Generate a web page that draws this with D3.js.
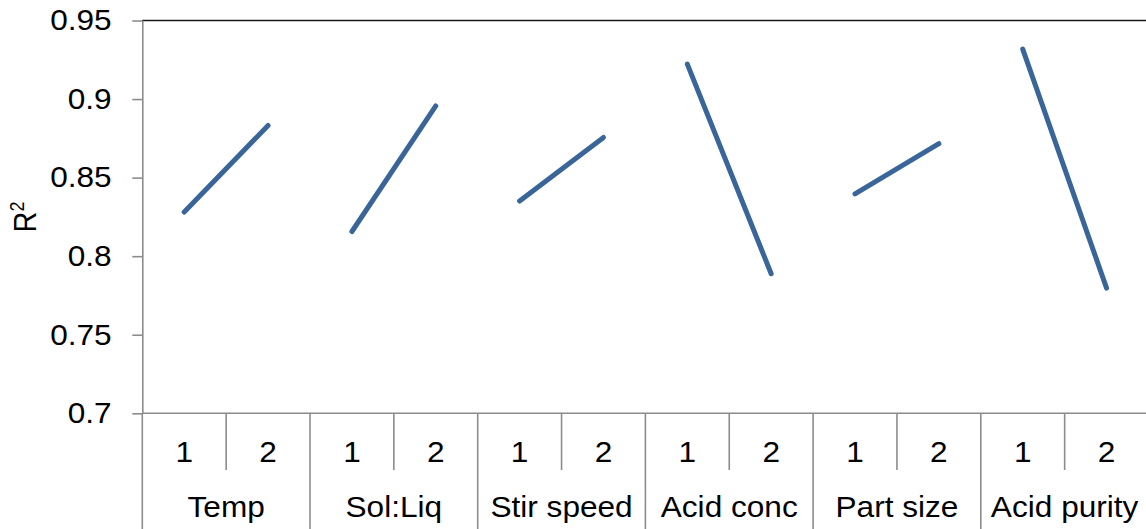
<!DOCTYPE html>
<html>
<head>
<meta charset="utf-8">
<script src="https://cdn.jsdelivr.net/npm/d3@7"></script>
<style>
  html, body { margin: 0; padding: 0; background: #fff; }
  svg { display: block; font-family: "Liberation Sans", Arial, sans-serif; }
</style>
</head>
<body>
<svg id="chart" width="1146" height="529"></svg>
<script>
// Factors and their two levels
const factors = ["Temp", "Sol:Liq", "Stir speed", "Acid conc", "Part size", "Acid purity"];
const levels = ["1", "2"];
// Mean R² at level 1 and level 2 for each factor
const level1 = [0.8281, 0.8157, 0.8351, 0.9222, 0.8396, 0.9318];
const level2 = [0.8832, 0.8956, 0.8756, 0.7888, 0.8716, 0.7797];
// Y axis ticks
const yTicks = [0.7, 0.75, 0.8, 0.85, 0.9, 0.95];

const svg = d3.select("#chart");
const plotLeft = 142.3, plotRight = 1148.5, plotTop = 20.5, plotBottom = 413.3;
const axisColor = "#8c8c8c";
const fontSize = 29;
const stretch = 1.09;   // slightly wide lettering

// Flattened category keys: one slot per factor level
const keys = [];
factors.forEach((f, i) => levels.forEach(l => keys.push(i + "|" + l)));

const x = d3.scaleBand().domain(keys).range([plotLeft, plotRight]).padding(0);
const y = d3.scaleLinear().domain([0.7, 0.95]).range([plotBottom, plotTop]);

// Top border line
svg.append("line")
  .attr("x1", plotLeft).attr("x2", plotRight)
  .attr("y1", y(0.95)).attr("y2", y(0.95))
  .attr("stroke", "#1a1a1a").attr("stroke-width", 1.6);

// Y axis
const yAxis = d3.axisLeft(y)
  .tickValues(yTicks)
  .tickFormat(d => String(d))
  .tickSizeInner(10)
  .tickSizeOuter(0)
  .tickPadding(0);
const gy = svg.append("g").attr("transform", `translate(${plotLeft},0)`).call(yAxis);
gy.select(".domain").attr("stroke", axisColor).attr("stroke-width", 1.6);
gy.selectAll(".tick line").attr("stroke", axisColor).attr("stroke-width", 1.6);
gy.selectAll(".tick text")
  .attr("x", 0)
  .attr("transform", `translate(-30.6,0) scale(${stretch},1)`)
  .attr("fill", "#000")
  .style("font-size", fontSize + "px")
  .style("font-family", "Liberation Sans, Arial, sans-serif");

// X axis baseline
svg.append("line")
  .attr("x1", plotLeft).attr("x2", plotRight)
  .attr("y1", plotBottom).attr("y2", plotBottom)
  .attr("stroke", axisColor).attr("stroke-width", 1.6);

// Level dividers (within each factor)
factors.forEach((f, i) => {
  const xs = x(i + "|2");
  svg.append("line")
    .attr("x1", xs).attr("x2", xs)
    .attr("y1", plotBottom).attr("y2", 470)
    .attr("stroke", axisColor).attr("stroke-width", 1.6);
});
// Factor dividers (full height)
d3.range(factors.length + 1).forEach(i => {
  const xs = i < factors.length ? x(i + "|1") : plotRight;
  svg.append("line")
    .attr("x1", xs).attr("x2", xs)
    .attr("y1", plotBottom).attr("y2", 529)
    .attr("stroke", axisColor).attr("stroke-width", 1.6);
});

// Level labels
svg.append("g").selectAll("text").data(keys).join("text")
  .attr("transform", d => `translate(${x(d) + x.bandwidth() / 2},462) scale(${stretch},1)`)
  .attr("text-anchor", "middle")
  .style("font-size", fontSize + "px")
  .attr("fill", "#000")
  .text(d => d.split("|")[1]);

// Factor labels
svg.append("g").selectAll("text").data(factors).join("text")
  .attr("transform", (d, i) => `translate(${x(i + "|1") + x.bandwidth()},517) scale(${stretch},1)`)
  .attr("text-anchor", "middle")
  .style("font-size", fontSize + "px")
  .attr("fill", "#000")
  .text(d => d);

// Y axis title: R²
const yt = svg.append("text")
  .attr("transform", `translate(36,${(plotTop + plotBottom) / 2}) rotate(-90) scale(1,${stretch})`)
  .attr("text-anchor", "middle")
  .style("font-size", fontSize + "px")
  .attr("fill", "#000");
yt.append("tspan").text("R");
yt.append("tspan").attr("dy", -11).style("font-size", "18px").text("2");

// One segment per factor, from level 1 to level 2
const segs = factors.map((f, i) => [
  { k: i + "|1", v: level1[i] },
  { k: i + "|2", v: level2[i] }
]);
const line = d3.line()
  .x(d => x(d.k) + x.bandwidth() / 2)
  .y(d => y(d.v));
svg.append("g").selectAll("path").data(segs).join("path")
  .attr("d", line)
  .attr("fill", "none")
  .attr("stroke", "#3a6599")
  .attr("stroke-width", 5)
  .attr("stroke-linecap", "round");
</script>
</body>
</html>
